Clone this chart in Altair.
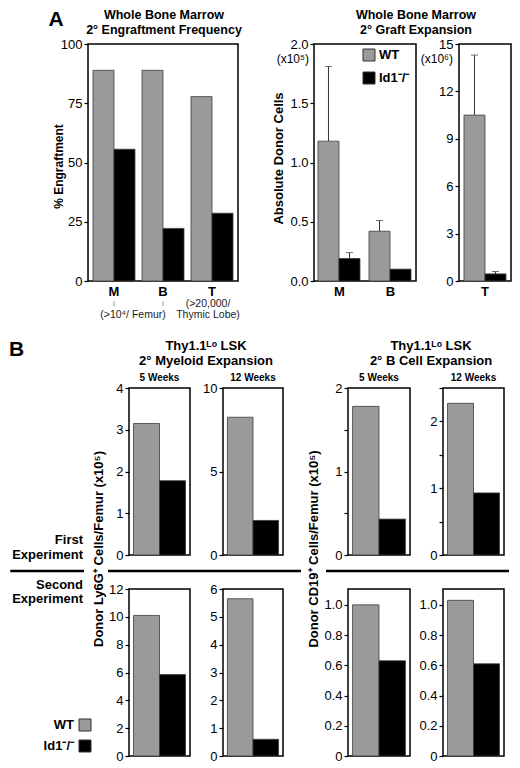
import altair as alt
import pandas as pd

FONT = "Liberation Sans"
GENOS = ["WT", "Id1"]
GENO_LABELS = ["WT", "Id1⁻/⁻"]
GENO_COLORS = ["#9a9a9a", "#000000"]

# A: 2° engraftment frequency (%)
freq_cells = ["M", "B", "T"]
freq_wt = [88.9, 88.9, 77.8]
freq_ko = [55.6, 22.2, 28.6]

# A: 2° graft expansion, M and B (x10^5)
exp_cells = ["M", "B"]
exp_wt = [1.18, 0.42]
exp_wt_top = [1.81, 0.51]
exp_ko = [0.19, 0.10]
exp_ko_top = [0.24, 0.10]

# A: 2° graft expansion, T (x10^6)
thy_cells = ["T"]
thy_wt = [10.5]
thy_wt_top = [14.3]
thy_ko = [0.45]
thy_ko_top = [0.6]

# B: Thy1.1lo LSK transplants (x10^5), [WT, Id1-/-]
myeloid_5wk_1 = [3.15, 1.78]
myeloid_12wk_1 = [8.25, 2.07]
bcell_5wk_1 = [1.78, 0.43]
bcell_12wk_1 = [2.27, 0.93]
myeloid_5wk_2 = [10.1, 5.85]
myeloid_12wk_2 = [5.65, 0.6]
bcell_5wk_2 = [1.0, 0.63]
bcell_12wk_2 = [1.03, 0.61]

A_H = 237  # plot height, panel A
B_H = 167  # plot height, panel B


def geno_color():
    return alt.Color("geno:N", scale=alt.Scale(domain=GENOS, range=GENO_COLORS), legend=None)


def note(text, x, y, size=13, weight="bold", align="center", baseline="middle", angle=0, color="black"):
    kw = dict(fontSize=size, fontWeight=weight, align=align, baseline=baseline, font=FONT, color=color)
    if angle:
        kw["angle"] = angle
    return alt.Chart(pd.DataFrame({"t": [text]})).mark_text(**kw).encode(
        x=alt.value(x), y=alt.value(y), text="t:N"
    )


def hline(x1, x2, y, width=2.5, opacity=1):
    return alt.Chart(pd.DataFrame({"k": [0]})).mark_rule(
        color="black", strokeWidth=width, opacity=opacity
    ).encode(x=alt.value(x1), x2=alt.value(x2), y=alt.value(y))


def anchor(x, y):
    # invisible 1px mark that pins the outer edge of a row's bounds
    return hline(x + 0.5, x + 1.5, y + 0.5, width=1, opacity=0)


def swatch(color, x, y):
    return alt.Chart(pd.DataFrame({"k": [0]})).mark_square(
        size=144, color=color, opacity=1, stroke="#333333", strokeWidth=1
    ).encode(x=alt.value(x), y=alt.value(y))


def gap(w, h, *layers):
    # invisible cell that only takes up room in the grid
    blank = alt.Chart(pd.DataFrame({"k": [0]})).mark_text(text="").encode(
        x=alt.value(0), y=alt.value(0)
    )
    return alt.layer(blank, *layers).properties(
        width=w, height=h, view=alt.ViewBackground(strokeOpacity=0)
    )


X_AXIS_A = alt.Axis(title=None, labelAngle=0, labelFontWeight="bold", labelFontSize=13,
                    ticks=False, domain=False, labelPadding=4)


def grouped_bars(df, cells, pad_inner, pad_outer, y_scale, y_axis, err=False):
    x = alt.X("cell:N", sort=cells, axis=X_AXIS_A,
              scale=alt.Scale(paddingInner=pad_inner, paddingOuter=pad_outer))
    xo = alt.XOffset("geno:N", sort=GENOS)
    base = alt.Chart(df)
    bars = base.mark_bar(stroke="#3c3c3c", strokeWidth=0.8).encode(
        x=x, xOffset=xo, y=alt.Y("value:Q", scale=y_scale, axis=y_axis), color=geno_color()
    )
    if not err:
        return [bars]
    shown = base.transform_filter("datum.upper > datum.value")
    whisker = shown.mark_rule(color="#333333", strokeWidth=1).encode(
        x=x, xOffset=xo, y="value:Q", y2="upper:Q"
    )
    cap = shown.mark_tick(color="#333333", thickness=1, size=7).encode(
        x=x, xOffset=xo, y="upper:Q"
    )
    return [whisker, cap, bars]


# ---------- Panel A ----------
freq_df = pd.DataFrame({
    "cell": freq_cells * 2,
    "geno": ["WT"] * 3 + ["Id1"] * 3,
    "value": freq_wt + freq_ko,
})
a1_layers = grouped_bars(
    freq_df, freq_cells, 0.143, 0.102,
    alt.Scale(domain=[0, 100], nice=False),
    alt.Axis(values=[0, 25, 50, 75, 100], title="% Engraftment", titleX=-30, titleY=122,
             titleAngle=270, titleAlign="center", titleBaseline="middle", titleFontSize=12),
)
sub_ticks = alt.Chart(pd.DataFrame({"cell": ["M", "B"]})).mark_rule(color="#8a8a8a", strokeWidth=0.8).encode(
    x=alt.X("cell:N", sort=freq_cells, axis=X_AXIS_A), y=alt.value(A_H + 20), y2=alt.value(A_H + 25)
)
a1 = alt.layer(
    *a1_layers,
    sub_ticks,
    note("(>10⁴/ Femur)", 45, A_H + 34, size=10.5, weight="normal", color="#222222"),
    note("(>20,000/", 120, A_H + 23, size=10.5, weight="normal", color="#222222"),
    note("Thymic Lobe)", 120, A_H + 34, size=10.5, weight="normal", color="#222222"),
    note("A", -32, -35, size=21, baseline="top"),
    note("Whole Bone Marrow", 76, -35, size=12.5, baseline="top"),
    note("2° Engraftment Frequency", 76, -20, size=12.5, baseline="top"),
    anchor(-79, A_H + 50),
).properties(width=150, height=A_H)

exp_df = pd.DataFrame({
    "cell": exp_cells * 2,
    "geno": ["WT"] * 2 + ["Id1"] * 2,
    "value": exp_wt + exp_ko,
    "upper": exp_wt_top + exp_ko_top,
})
a2 = alt.layer(
    *grouped_bars(
        exp_df, exp_cells, 0.157, 0.078,
        alt.Scale(domain=[0, 2], nice=False),
        alt.Axis(values=[0, 0.5, 1, 1.5, 2], format=".1f", title="Absolute Donor Cells",
                 titleX=-36, titleY=114, titleAngle=270, titleAlign="center",
                 titleBaseline="middle", titleFontSize=13),
        err=True,
    ),
    note("(x10⁵)", -5, 15, size=12, weight="normal", align="right"),
    swatch(GENO_COLORS[0], 55, 11),
    swatch(GENO_COLORS[1], 55, 34),
    note(GENO_LABELS[0], 65, 11, align="left"),
    note(GENO_LABELS[1], 65, 34, align="left"),
    note("Whole Bone Marrow", 102, -35, size=12.5, baseline="top"),
    note("2° Graft Expansion", 102, -20, size=12.5, baseline="top"),
).properties(width=102, height=A_H)

thy_df = pd.DataFrame({
    "cell": thy_cells * 2,
    "geno": ["WT", "Id1"],
    "value": thy_wt + thy_ko,
    "upper": thy_wt_top + thy_ko_top,
})
a3 = alt.layer(
    *grouped_bars(
        thy_df, thy_cells, 0, 0.119,
        alt.Scale(domain=[0, 15], nice=False),
        alt.Axis(values=[0, 3, 6, 9, 12, 15], title=None),
        err=True,
    ),
    note("(x10⁶)", -6, 15, size=12, weight="normal", align="right"),
).properties(width=52, height=A_H)


# ---------- Panel B ----------
HALF_LABELS = "datum.value % 1 == 0 ? format(datum.value, 'd') : ''"
DEC_LABELS = "datum.value == 0 ? '0' : format(datum.value, '.1f')"


def expansion(values, domain, ticks, width, label_expr=None, heading=None):
    df = pd.DataFrame({"geno": GENOS, "value": values})
    axis_kw = dict(values=ticks, title=None, format="d")
    if label_expr:
        axis_kw = dict(values=ticks, title=None, labelExpr=label_expr)
    bars = alt.Chart(df).mark_bar(stroke="#3c3c3c", strokeWidth=0.8).encode(
        x=alt.X("geno:N", sort=GENOS, axis=None,
                scale=alt.Scale(paddingInner=0, paddingOuter=0.173)),
        y=alt.Y("value:Q", scale=alt.Scale(domain=domain, nice=False), axis=alt.Axis(**axis_kw)),
        color=geno_color(),
    )
    layers = [bars]
    if heading:
        layers.append(note(heading, width / 2, -10, size=10))
    return alt.layer(*layers).properties(width=width, height=B_H)


m5t = expansion(myeloid_5wk_1, [0, 4], [0, 1, 2, 3, 4], 61, heading="5 Weeks")
m12t = expansion(myeloid_12wk_1, [0, 10], [0, 5, 10], 60, heading="12 Weeks")
b5t = expansion(bcell_5wk_1, [0, 2], [0, 0.5, 1, 1.5, 2], 62, HALF_LABELS, heading="5 Weeks")
b12t = expansion(bcell_12wk_1, [0, 2.5], [0, 0.5, 1, 1.5, 2, 2.5], 61, HALF_LABELS, heading="12 Weeks")
m5b = expansion(myeloid_5wk_2, [0, 12], [0, 2, 4, 6, 8, 10, 12], 61)
m12b = expansion(myeloid_12wk_2, [0, 6], [0, 1, 2, 3, 4, 5, 6], 60)
b5b = expansion(bcell_5wk_2, [0, 1.105], [0, 0.2, 0.4, 0.6, 0.8, 1.0], 62, DEC_LABELS)
b12b = expansion(bcell_12wk_2, [0, 1.105], [0, 0.2, 0.4, 0.6, 0.8, 1.0], 61, DEC_LABELS)

ROW_GAP = 34
LOW = B_H + ROW_GAP  # top of the second-experiment row
SEP = B_H + 16       # separator between experiments
SIDE_W = 41          # empty cell left of the first panel B plot

# panel B labels are attached to the empty cell left of the first plot
side = gap(
    SIDE_W, B_H,
    anchor(-79, -50),
    note("B", -79, -38, size=21, align="left"),
    note("Thy1.1ᴸᵒ LSK", 118, -42),
    note("2° Myeloid Expansion", 118, -27),
    note("Thy1.1ᴸᵒ LSK", 343, -42),
    note("2° B Cell Expansion", 343, -27),
    note("First", -5, SEP - 31, align="right"),
    note("Experiment", -5, SEP - 16, align="right"),
    note("Second", -5, SEP + 14, align="right"),
    note("Experiment", -5, SEP + 28, align="right"),
    hline(-77.75, -4, SEP),
    hline(20, 213, SEP),
    hline(238, 421, SEP),
    note("Donor Ly6G⁺ Cells/Femur (x10⁵)", 11, 161, angle=270),
    note("Donor CD19⁺ Cells/Femur (x10⁵)", 226, 161, angle=270),
    note(GENO_LABELS[0], -14, LOW + 136, align="right"),
    note(GENO_LABELS[1], -14, LOW + 157, align="right"),
    swatch(GENO_COLORS[0], -3, LOW + 136),
    swatch(GENO_COLORS[1], -3, LOW + 157),
)

row_a = alt.hconcat(
    a1, gap(76, A_H), a2, gap(43, A_H), a3, spacing=0, bounds="flush"
).resolve_scale(x="independent", y="independent")

# grid of 8 columns: the same column widths in both experiment rows
row_b = alt.concat(
    side, m5t, gap(33, B_H), m12t, gap(65, B_H), b5t, gap(33, B_H), b12t,
    *[gap(1, ROW_GAP) for _ in range(8)],
    gap(SIDE_W, B_H), m5b, gap(33, B_H), m12b, gap(65, B_H), b5b, gap(33, B_H), b12b,
    columns=8, spacing=0, bounds="flush",
).resolve_scale(x="independent", y="independent")

chart = alt.vconcat(row_a, row_b, spacing=5).resolve_scale(
    x="independent", y="independent"
).properties(padding=0).configure(font=FONT).configure_view(
    stroke="black", strokeWidth=1.5
).configure_axis(
    labelFont=FONT, labelFontSize=13, labelColor="black", tickColor="black", tickSize=4,
    tickWidth=1.2, labelPadding=2, domain=False, grid=False, titleFont=FONT,
    titleFontWeight="bold", titleColor="black",
)

chart.save("out.html", embed_options={"renderer": "svg", "actions": False})
